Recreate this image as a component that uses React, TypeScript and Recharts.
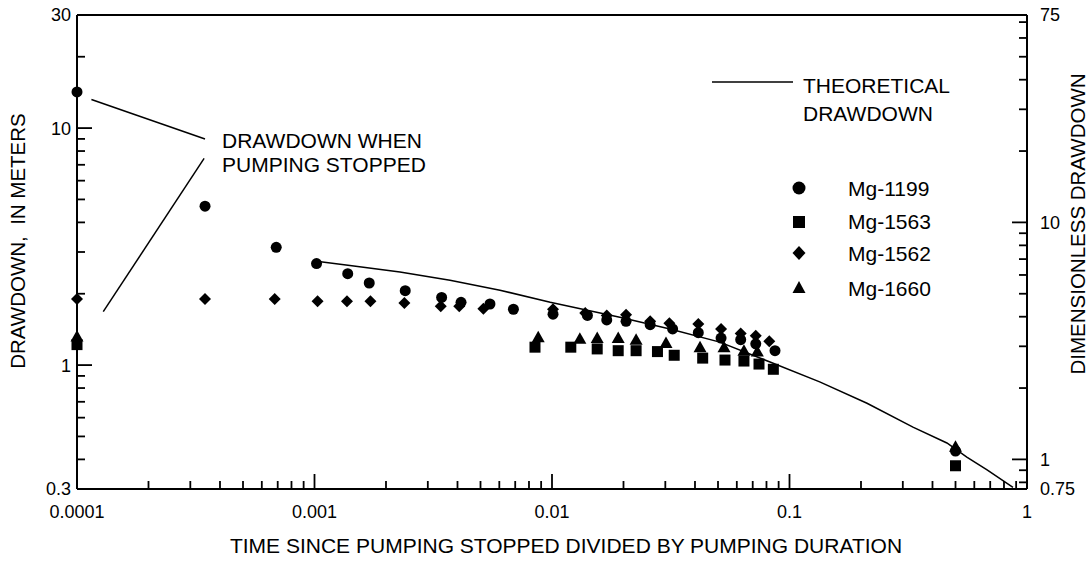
import React from "react";
import {
  ComposedChart,
  Line,
  Scatter,
  XAxis,
  YAxis,
  ReferenceLine
} from "recharts";

const FONT = '"Liberation Sans", Arial, Helvetica, sans-serif';
const INK = "#000";
const TICK_FS = 18;
const TEXT_FS = 21;
const TITLE_FS = 20.5;

// time since pumping stopped / pumping duration, drawdown in meters
const mg1199Time = [
  0.0001, 0.000346, 0.00069, 0.00102, 0.00138, 0.0017, 0.00241, 0.00343,
  0.00414, 0.00548, 0.00688, 0.0101, 0.0141, 0.017, 0.0205, 0.0259, 0.0322,
  0.0413, 0.0515, 0.0623, 0.0721, 0.0869, 0.5
];
const mg1199Drawdown = [
  14.2, 4.68, 3.14, 2.68, 2.43, 2.22, 2.06, 1.93, 1.84, 1.81, 1.72, 1.64,
  1.62, 1.55, 1.53, 1.48, 1.42, 1.37, 1.3, 1.28, 1.23, 1.15, 0.434
];

const mg1563Time = [
  0.0001, 0.00848, 0.012, 0.0155, 0.019, 0.0226, 0.0278, 0.0327, 0.0431,
  0.0535, 0.0643, 0.0744, 0.0855, 0.5
];
const mg1563Drawdown = [
  1.22, 1.19, 1.19, 1.17, 1.15, 1.15, 1.14, 1.1, 1.07, 1.05, 1.04, 1.01, 0.96,
  0.376
];

const mg1562Time = [
  0.0001, 0.000346, 0.00068, 0.00103, 0.00137, 0.00172, 0.00239, 0.0034,
  0.00407, 0.00514, 0.0101, 0.0138, 0.017, 0.0205, 0.0259, 0.0312, 0.0413,
  0.0515, 0.0623, 0.0721, 0.0822
];
const mg1562Drawdown = [
  1.9, 1.9, 1.9, 1.86, 1.86, 1.86, 1.83, 1.77, 1.77, 1.73, 1.72, 1.66, 1.62,
  1.63, 1.53, 1.5, 1.49, 1.42, 1.36, 1.33, 1.26
];

const mg1660Time = [
  0.0001, 0.00875, 0.0131, 0.0155, 0.019, 0.0226, 0.0302, 0.042, 0.053,
  0.0643, 0.0732, 0.5
];
const mg1660Drawdown = [
  1.32, 1.31, 1.29, 1.3, 1.3, 1.28, 1.24, 1.19, 1.19, 1.15, 1.14, 0.452
];

const theoreticalTime = [
  0.00102, 0.00141, 0.00229, 0.00372, 0.00604, 0.00983, 0.0193, 0.0314,
  0.0509, 0.0828, 0.134, 0.212, 0.331, 0.46, 0.558, 0.679, 0.873
];
const theoreticalDrawdown = [
  2.74, 2.63, 2.47, 2.28, 2.07, 1.84, 1.59, 1.42, 1.25, 1.03, 0.849, 0.69,
  0.547, 0.469, 0.409, 0.361, 0.305
];

const X_TICKS = [
  0.0001, 0.0002, 0.0003, 0.0004, 0.0005, 0.0006, 0.0007, 0.0008, 0.0009,
  0.001, 0.002, 0.003, 0.004, 0.005, 0.006, 0.007, 0.008, 0.009,
  0.01, 0.02, 0.03, 0.04, 0.05, 0.06, 0.07, 0.08, 0.09,
  0.1, 0.2, 0.3, 0.4, 0.5, 0.6, 0.7, 0.8, 0.9, 1
];
const X_LABELS = [0.0001, 0.001, 0.01, 0.1, 1];

const LEFT_TICKS = [
  0.3, 0.4, 0.5, 0.6, 0.7, 0.8, 0.9, 1, 2, 3, 4, 5, 6, 7, 8, 9, 10, 20, 30
];
const LEFT_LABELS = [0.3, 1, 10, 30];

const RIGHT_TICKS = [
  0.75, 0.8, 0.9, 1, 2, 3, 4, 5, 6, 7, 8, 9, 10, 20, 30, 40, 50, 60, 70, 75
];
const RIGHT_LABELS = [0.75, 1, 10, 75];

// leader lines from the annotation text to the first points
const LEADERS = [
  [{ x: 0.000115, y: 13.2 }, { x: 0.000346, y: 8.99 }],
  [{ x: 0.000343, y: 7.45 }, { x: 0.000129, y: 1.68 }]
];

const toPoints = (t: number[], s: number[]) =>
  t.map((v, i) => ({ t: v, s: s[i] }));

const isDecade = (v: number) =>
  Math.abs(Math.log10(v) - Math.round(Math.log10(v))) < 1e-6;
const inList = (list: number[], v: number) =>
  list.some((l) => Math.abs(l / v - 1) < 1e-6);

const MAJOR = 15;
const MINOR = 8;
const TICK_W = 1.8;

function BottomTick(p: any) {
  const v = p.payload.value;
  const len = isDecade(v) ? MAJOR : MINOR;
  const x = Number(p.x);
  const y = Number(p.y);
  return (
    <g>
      <path d={`M${x},${y}V${y - len}`} stroke={INK} strokeWidth={TICK_W} fill="none" />
      {inList(X_LABELS, v) && (
        <text x={x} y={y + 23} dy="0.36em" textAnchor="middle" fontSize={TICK_FS} fontFamily={FONT} fill={INK}>
          {String(v)}
        </text>
      )}
    </g>
  );
}

function TopTick(p: any) {
  const v = p.payload.value;
  const len = isDecade(v) ? MAJOR : MINOR;
  const x = Number(p.x);
  const y = Number(p.y);
  return <path d={`M${x},${y}V${y + len}`} stroke={INK} strokeWidth={TICK_W} fill="none" />;
}

function LeftTick(p: any) {
  const v = p.payload.value;
  const len = isDecade(v) ? MAJOR : MINOR;
  const x = Number(p.x);
  const y = Number(p.y);
  return (
    <g>
      <path d={`M${x},${y}H${x + len}`} stroke={INK} strokeWidth={TICK_W} fill="none" />
      {inList(LEFT_LABELS, v) && (
        <text x={x - 6} y={y} dy="0.36em" textAnchor="end" fontSize={TICK_FS} fontFamily={FONT} fill={INK}>
          {String(v)}
        </text>
      )}
    </g>
  );
}

function RightTick(p: any) {
  const v = p.payload.value;
  const len = isDecade(v) ? MAJOR : MINOR;
  const x = Number(p.x);
  const y = Number(p.y);
  return (
    <g>
      <path d={`M${x},${y}H${x - len}`} stroke={INK} strokeWidth={TICK_W} fill="none" />
      {inList(RIGHT_LABELS, v) && (
        <text x={x + 13} y={y} dy="0.36em" textAnchor="start" fontSize={TICK_FS} fontFamily={FONT} fill={INK}>
          {String(v)}
        </text>
      )}
    </g>
  );
}

function DotMark(p: any) {
  return <circle cx={p.cx} cy={p.cy} r={5.5} fill={INK} />;
}
function SquareMark(p: any) {
  return <rect x={p.cx - 5.5} y={p.cy - 5.5} width={11} height={11} fill={INK} />;
}
function DiamondMark(p: any) {
  const r = 6;
  return (
    <path d={`M${p.cx},${p.cy - r}L${p.cx + r},${p.cy}L${p.cx},${p.cy + r}L${p.cx - r},${p.cy}Z`} fill={INK} />
  );
}
function TriangleMark(p: any) {
  return (
    <path d={`M${p.cx},${p.cy - 6.5}L${p.cx + 6.5},${p.cy + 5}L${p.cx - 6.5},${p.cy + 5}Z`} fill={INK} />
  );
}

const txt = { fontFamily: FONT, fill: INK } as const;

export default function App() {
  const axisLine = { stroke: INK, strokeWidth: 2 };
  return (
    <div style={{ position: "absolute", left: 0, top: 0, width: 1091, height: 561, background: "#fff" }}>
      <ComposedChart width={1091} height={561} margin={{ top: 14, right: 0, bottom: 0, left: 0 }}>
        <XAxis
          dataKey="t"
          type="number"
          scale="log"
          domain={[0.0001, 1]}
          ticks={X_TICKS}
          interval={0}
          height={72}
          tickSize={0}
          tickMargin={0}
          tickLine={false}
          axisLine={axisLine}
          tick={(p: any) => <BottomTick {...p} />}
        />
        <XAxis
          xAxisId="top"
          orientation="top"
          type="number"
          scale="log"
          domain={[0.0001, 1]}
          allowDataOverflow
          ticks={X_TICKS}
          interval={0}
          height={1}
          tickSize={0}
          tickMargin={0}
          tickLine={false}
          axisLine={axisLine}
          tick={(p: any) => <TopTick {...p} />}
        />
        <YAxis
          yAxisId="leftFrame"
          type="number"
          scale="log"
          domain={[0.3, 30]}
          allowDataOverflow
          ticks={LEFT_TICKS}
          interval={0}
          width={77}
          tickSize={0}
          tickMargin={0}
          tickLine={false}
          axisLine={axisLine}
          tick={(p: any) => <LeftTick {...p} />}
        />
        {/* data axis for the drawdown series; the frame axis above draws it */}
        <YAxis
          yAxisId="left"
          dataKey="s"
          type="number"
          scale="log"
          domain={[0.3, 30]}
          width={0}
          hide
        />
        <YAxis
          yAxisId="right"
          orientation="right"
          type="number"
          scale="log"
          domain={[0.75, 75]}
          allowDataOverflow
          ticks={RIGHT_TICKS}
          interval={0}
          width={64}
          tickSize={0}
          tickMargin={0}
          tickLine={false}
          axisLine={axisLine}
          tick={(p: any) => <RightTick {...p} />}
        />
        {LEADERS.map((seg, i) => (
          <ReferenceLine
            key={i}
            yAxisId="left"
            segment={seg}
            stroke={INK}
            strokeWidth={1.5}
            ifOverflow="visible"
          />
        ))}
        <Line
          yAxisId="left"
          data={toPoints(theoreticalTime, theoreticalDrawdown)}
          dataKey="s"
          type="linear"
          stroke={INK}
          strokeWidth={1.5}
          dot={false}
          activeDot={false}
          isAnimationActive={false}
        />
        <Scatter yAxisId="left" data={toPoints(mg1562Time, mg1562Drawdown)} dataKey="s" shape={DiamondMark} isAnimationActive={false} />
        <Scatter yAxisId="left" data={toPoints(mg1563Time, mg1563Drawdown)} dataKey="s" shape={SquareMark} isAnimationActive={false} />
        <Scatter yAxisId="left" data={toPoints(mg1660Time, mg1660Drawdown)} dataKey="s" shape={TriangleMark} isAnimationActive={false} />
        <Scatter yAxisId="left" data={toPoints(mg1199Time, mg1199Drawdown)} dataKey="s" shape={DotMark} isAnimationActive={false} />
      </ComposedChart>

      <svg width={1091} height={561} style={{ position: "absolute", left: 0, top: 0, pointerEvents: "none" }}>
        <text {...txt} fontSize={TITLE_FS} transform="translate(18,241) rotate(-90)" textAnchor="middle" dy="0.36em" style={{ whiteSpace: "pre" }}>
          {"DRAWDOWN,  IN METERS"}
        </text>
        <text {...txt} fontSize={TITLE_FS} transform="translate(1078,224) rotate(-90)" textAnchor="middle" dy="0.36em">
          DIMENSIONLESS DRAWDOWN
        </text>
        <text {...txt} fontSize={TEXT_FS} x={566} y={545} dy="0.36em" textAnchor="middle">
          TIME SINCE PUMPING STOPPED DIVIDED BY PUMPING DURATION
        </text>

        <text {...txt} fontSize={TEXT_FS} x={222} y={140} dy="0.36em">DRAWDOWN WHEN</text>
        <text {...txt} fontSize={TEXT_FS} x={222} y={164} dy="0.36em">PUMPING STOPPED</text>

        <line x1={712} y1={82} x2={793} y2={82} stroke={INK} strokeWidth={1.5} />
        <text {...txt} fontSize={TEXT_FS} x={803} y={85} dy="0.36em">THEORETICAL</text>
        <text {...txt} fontSize={TEXT_FS} x={803} y={113} dy="0.36em">DRAWDOWN</text>

        <circle cx={799} cy={188} r={6.5} fill={INK} />
        <rect x={793} y={216} width={12} height={12} fill={INK} />
        <path d="M799,246L805.5,253L799,260L792.5,253Z" fill={INK} />
        <path d="M799,281L805.5,293L792.5,293Z" fill={INK} />
        <text {...txt} fontSize={TEXT_FS} x={848} y={188} dy="0.36em">Mg-1199</text>
        <text {...txt} fontSize={TEXT_FS} x={848} y={221} dy="0.36em">Mg-1563</text>
        <text {...txt} fontSize={TEXT_FS} x={848} y={253} dy="0.36em">Mg-1562</text>
        <text {...txt} fontSize={TEXT_FS} x={848} y={288} dy="0.36em">Mg-1660</text>
      </svg>
    </div>
  );
}
